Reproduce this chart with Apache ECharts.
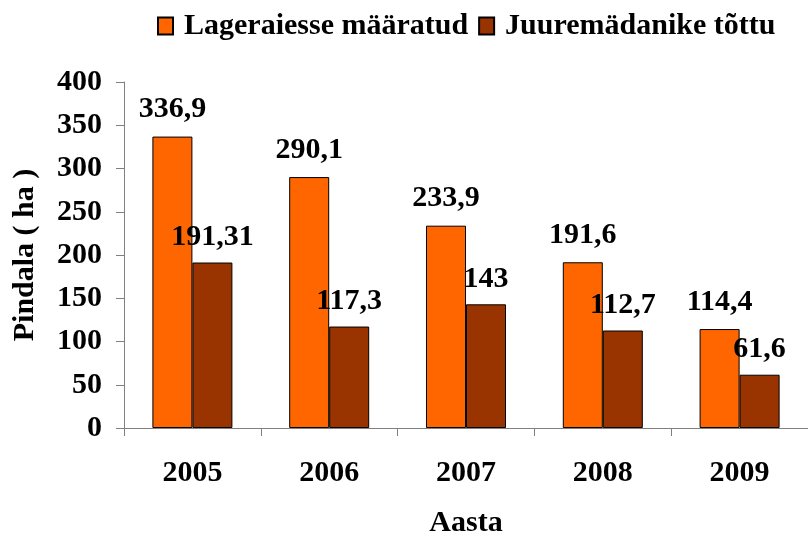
<!DOCTYPE html>
<html>
<head>
<meta charset="utf-8">
<script src="https://cdn.jsdelivr.net/npm/echarts@6/dist/echarts.min.js"></script>
<style>
    html, body { margin: 0; padding: 0; background: #fff; }
    #chart { width: 808px; height: 543px; }
</style>
</head>
<body>
<div id="chart"></div>
<script>
// andmed
var years = ['2005', '2006', '2007', '2008', '2009'];
var lageraie = [336.9, 290.1, 233.9, 191.6, 114.4];
var juuremadanik = [191.31, 117.3, 143, 112.7, 61.6];
var seriesNames = ['Lageraiesse määratud', 'Juuremädanike tõttu'];

var font = "'Liberation Serif', 'Times New Roman', serif";
var commaLabel = function (p) {
    return String(p.value).replace('.', ',');
};

var myChart = echarts.init(document.getElementById('chart'));
var option = {
    backgroundColor: '#fff',
    textStyle: { fontFamily: font, fontWeight: 'bold', color: '#000' },
    legend: {
        left: 152,
        top: 6,
        icon: 'rect',
        itemWidth: 15,
        itemHeight: 17,
        itemGap: 10,
        textStyle: {
            fontFamily: font,
            fontWeight: 'bold',
            fontSize: 30,
            color: '#000',
            padding: [0, 0, 0, 6]
        },
        data: seriesNames
    },
    grid: {
        left: 124,
        right: 0,
        top: 82,
        bottom: 114
    },
    xAxis: {
        type: 'category',
        data: years,
        name: 'Aasta',
        nameLocation: 'middle',
        nameGap: 80,
        nameTextStyle: { fontFamily: font, fontWeight: 'bold', fontSize: 30, color: '#000' },
        axisLine: { lineStyle: { color: '#808080', width: 1 } },
        axisTick: { show: true, length: 8, lineStyle: { color: '#808080' } },
        axisLabel: { margin: 30, fontFamily: font, fontWeight: 'bold', fontSize: 30, color: '#000' }
    },
    yAxis: {
        type: 'value',
        min: 0,
        max: 400,
        interval: 50,
        name: 'Pindala ( ha )',
        nameLocation: 'middle',
        nameGap: 84,
        nameTextStyle: { fontFamily: font, fontWeight: 'bold', fontSize: 30, color: '#000' },
        axisLine: { show: true, lineStyle: { color: '#808080', width: 1 } },
        axisTick: { show: true, length: 8, lineStyle: { color: '#808080' } },
        axisLabel: { margin: 22, fontFamily: font, fontWeight: 'bold', fontSize: 30, color: '#000' },
        splitLine: { show: false }
    },
    series: [
        {
            name: seriesNames[0],
            type: 'bar',
            data: lageraie,
            barWidth: 40,
            barGap: '0%',
            itemStyle: { color: '#FF6600', borderColor: '#000', borderWidth: 1 },
            label: {
                show: true,
                position: 'top',
                distance: 12,
                formatter: commaLabel,
                fontFamily: font,
                fontWeight: 'bold',
                fontSize: 30,
                color: '#000'
            }
        },
        {
            name: seriesNames[1],
            type: 'bar',
            data: juuremadanik,
            barWidth: 40,
            barGap: '0%',
            itemStyle: { color: '#993300', borderColor: '#000', borderWidth: 1 },
            label: {
                show: true,
                position: 'top',
                distance: 10,
                formatter: commaLabel,
                fontFamily: font,
                fontWeight: 'bold',
                fontSize: 30,
                color: '#000'
            }
        }
    ]
};
myChart.setOption(option);
</script>
</body>
</html>
